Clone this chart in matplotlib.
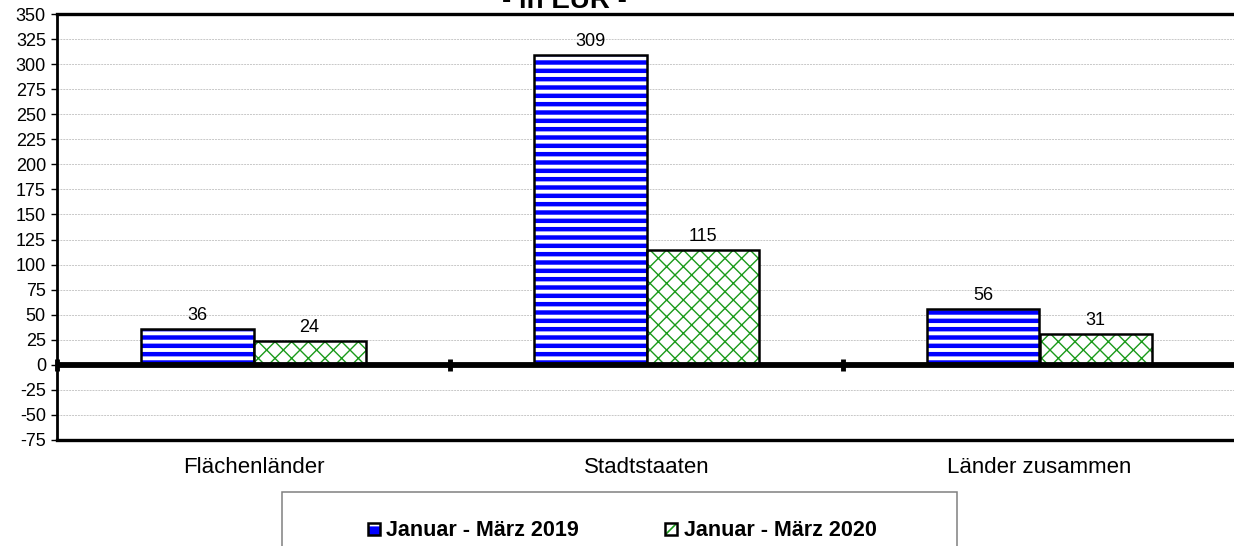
import numpy as np
import matplotlib as mpl
import matplotlib.pyplot as plt
from matplotlib.patches import Patch, Rectangle

plt.rcParams['font.family'] = ['Liberation Sans', 'DejaVu Sans']
plt.rcParams['axes.unicode_minus'] = False

# daten
kategorien = ['Flächenländer', 'Stadtstaaten', 'Länder zusammen']
werte_2019 = [36, 309, 56]
werte_2020 = [24, 115, 31]
serien = ['Januar - März 2019', 'Januar - März 2020']
titel = '- in EUR -'

BLAU = '#0000ff'
GRUEN = '#1a9a1a'

fig = plt.figure(figsize=(12.34, 5.46), dpi=100)
ax = fig.add_axes([57 / 1234, 1 - 440 / 546, 1179 / 1234, 426 / 546])

x = np.arange(len(kategorien))
breite = 0.285

def schraffur(patches, farbe, lw):
    for p in patches:
        if hasattr(p, 'set_hatch_linewidth'):
            p.set_hatch_linewidth(lw)
        p._hatch_linewidth = lw
        p._hatch_color = mpl.colors.to_rgba(farbe)

# blaue streifen
with mpl.rc_context({'hatch.linewidth': 3.2, 'hatch.color': BLAU}):
    b1 = ax.bar(x - breite / 2, werte_2019, breite, facecolor='white',
                edgecolor='black', linewidth=1.8, hatch='--', zorder=3)
schraffur(b1, BLAU, 3.2)

# gruene rauten
with mpl.rc_context({'hatch.linewidth': 1.0, 'hatch.color': GRUEN}):
    b2 = ax.bar(x + breite / 2, werte_2020, breite, facecolor='white',
                edgecolor='black', linewidth=1.8, hatch='xx', zorder=3)
schraffur(b2, GRUEN, 1.0)

for bars, werte in ((b1, werte_2019), (b2, werte_2020)):
    for p, w in zip(bars, werte):
        ax.annotate(str(w), (p.get_x() + p.get_width() / 2, w),
                    xytext=(0, 6.5), textcoords='offset points',
                    ha='center', va='baseline', fontsize=13)

ax.set_xlim(-0.5, len(kategorien) - 0.5)
ax.set_ylim(-75, 350)
ax.set_yticks(np.arange(-75, 351, 25))
ax.tick_params(axis='y', length=4, width=1, direction='out', labelsize=13, pad=4)
ax.set_xticks(x)
ax.set_xticklabels(kategorien, fontsize=16)
ax.tick_params(axis='x', length=0, pad=12)
ax.yaxis.grid(True, linestyle=(0, (2, 1)), color='#c8c8c8', linewidth=0.7, zorder=0)
ax.set_axisbelow(True)

# nulllinie mit trennstrichen
ax.axhline(0, color='black', linewidth=4.2, zorder=4)
trenner = np.arange(len(kategorien) + 1) - 0.5
ax.plot(trenner, np.zeros_like(trenner), linestyle='none', marker='|',
        markersize=9, markeredgewidth=3.5, color='black', zorder=5, clip_on=False)

ax.spines['right'].set_visible(False)
ax.spines['left'].set_linewidth(2.0)
ax.spines['top'].set_linewidth(2.4)
ax.spines['bottom'].set_linewidth(2.4)

fig.text(564 / 1234, 1 - 8 / 546, titel, ha='center', va='baseline',
         fontsize=20, fontweight='bold')

# legende
fig.patches.append(Rectangle((282 / 1234, -0.05), 675 / 1234, 0.05 + 1 - 492 / 546,
                             transform=fig.transFigure, facecolor='white',
                             edgecolor='#808080', linewidth=1.1))
h1 = Patch(facecolor=BLAU, edgecolor='black', hatch='-', linewidth=1.8)
h2 = Patch(facecolor='white', edgecolor='black', hatch='/', linewidth=1.8)
leg = fig.legend([h1, h2], serien, loc='center', bbox_to_anchor=(622 / 1234, 1 - 531 / 546),
                 ncol=2, frameon=False, handlelength=0.56, handleheight=0.5,
                 handletextpad=0.3, columnspacing=4.0,
                 prop={'size': 15.5, 'weight': 'bold'})
lp = leg.get_patches()
schraffur([lp[0]], 'white', 2.0)
schraffur([lp[1]], GRUEN, 1.2)

fig.savefig('out.png', dpi=100)
